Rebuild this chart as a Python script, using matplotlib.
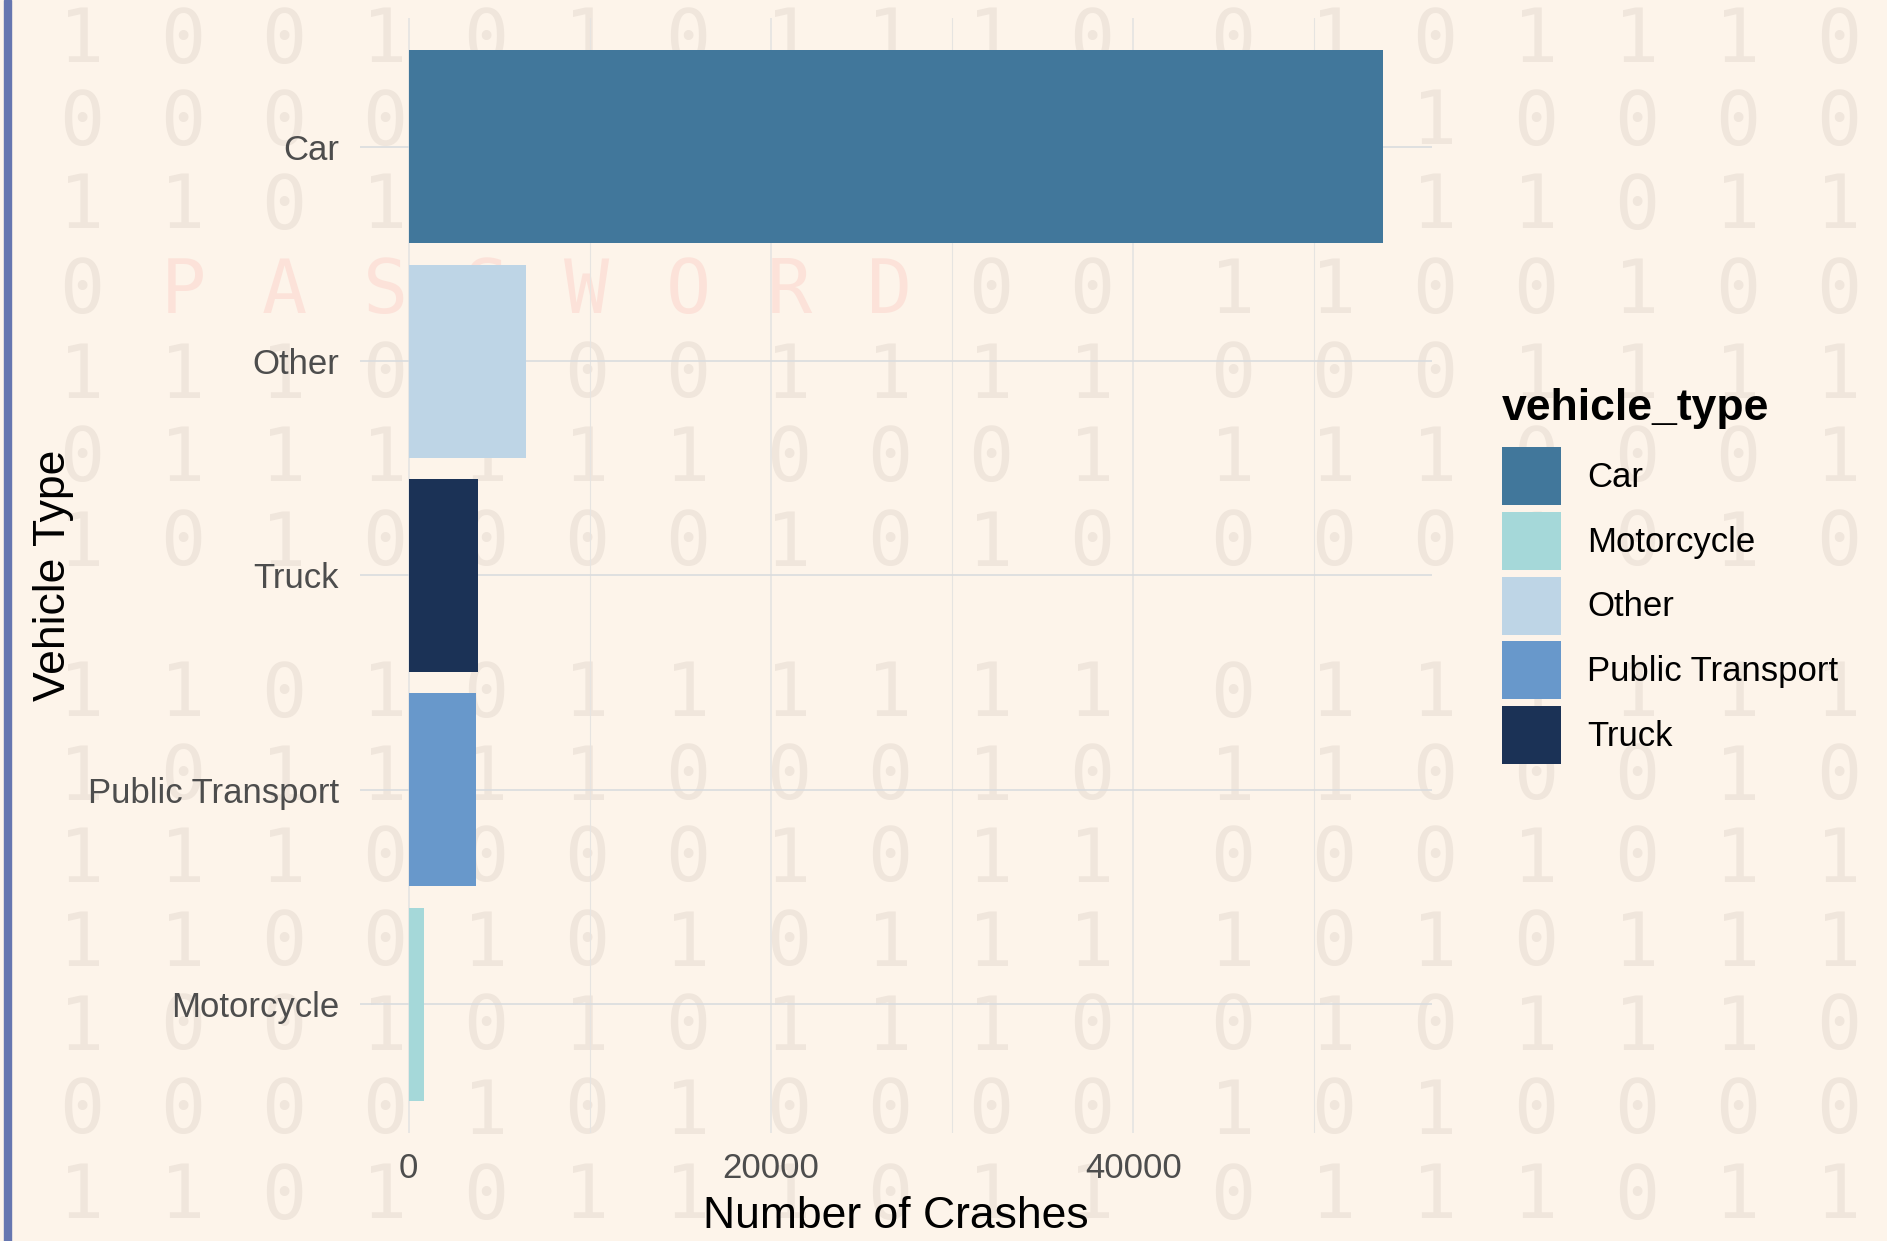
import matplotlib
matplotlib.use("Agg")
import matplotlib.pyplot as plt
from matplotlib.patches import Patch, Rectangle
from matplotlib.ticker import MultipleLocator

# ---------------- data ----------------
categories = ["Car", "Other", "Truck", "Public Transport", "Motorcycle"]  # top -> bottom
crashes = [53800, 6500, 3850, 3700, 860]
legend_order = ["Car", "Motorcycle", "Other", "Public Transport", "Truck"]
bar_colors = {
    "Car": "#41779B",
    "Motorcycle": "#A5D8D9",
    "Other": "#BED5E6",
    "Public Transport": "#6898CB",
    "Truck": "#1B3256",
}
x_ticks = [0, 20000, 40000]
x_tick_labels = ["0", "20000", "40000"]

# decorative binary background (left tile of 11 columns, right tile of 7)
bg_left = [
    "10010101110", "00001010000", "11010111011", "0PASSWORD00",
    "11100001111", "01111110001", "10100001010", "11010111111",
    "10111100010", "11100001011", "11001010111", "10010101110",
    "00001010000", "11010111011",
]
bg_right = [
    "0101110", "1010000", "0111011", "1100100",
    "0001111", "1110001", "0001010", "0111111",
    "1100010", "0001011", "1010111", "0101110",
    "1010000", "0111011",
]

# ---------------- layout ----------------
W, H = 1887, 1241
BG = "#FDF4EA"
DIGIT = "#F0E6DC"
PINK = "#FCE2D9"
row_y = [42, 124, 208, 292, 377, 461, 545, 696, 779, 861, 945, 1029, 1113, 1198]

plt.rcParams["font.family"] = ["Liberation Sans", "DejaVu Sans"]

fig = plt.figure(figsize=(W / 100, H / 100), dpi=100, facecolor=BG)

for r, y in enumerate(row_y):
    for k, ch in enumerate(bg_left[r]):
        fig.text((82 + 101 * k) / W, 1 - y / H, ch, family="DejaVu Sans Mono",
                 fontsize=54, color=PINK if ch.isalpha() else DIGIT,
                 ha="center", va="center", zorder=-5)
    for k, ch in enumerate(bg_right[r]):
        fig.text((1233 + 101 * k) / W, 1 - y / H, ch, family="DejaVu Sans Mono",
                 fontsize=54, color=DIGIT, ha="center", va="center", zorder=-5)

ax_l, ax_r, ax_t, ax_b = 360, 1432, 18, 1133
ax = fig.add_axes([ax_l / W, 1 - ax_b / H, (ax_r - ax_l) / W, (ax_b - ax_t) / H])
ax.patch.set_alpha(0)

n = len(categories)
pos = list(range(n, 0, -1))
ax.barh(pos, crashes, height=0.9, color=[bar_colors[c] for c in categories],
        zorder=3)

xmax = max(crashes)
ax.set_xlim(-0.05 * xmax, 1.05 * xmax)
ax.set_ylim(0.4, n + 0.6)
ax.set_yticks(pos)
ax.set_yticklabels(categories)
ax.set_xticks(x_ticks)
ax.set_xticklabels(x_tick_labels)
ax.xaxis.set_minor_locator(MultipleLocator(10000))

ax.grid(which="major", axis="y", color="#DADCDE", linewidth=1.2, zorder=0)
ax.grid(which="major", axis="x", color="#E2E2E1", linewidth=1.1, zorder=0)
ax.grid(which="minor", axis="x", color="#E6E4E1", linewidth=0.8, zorder=0)
ax.set_axisbelow(True)
for s in ax.spines.values():
    s.set_visible(False)
ax.tick_params(which="both", length=0)
ax.tick_params(axis="y", labelsize=25, labelcolor="#4D4D4D", pad=15)
ax.tick_params(axis="x", labelsize=25, labelcolor="#4D4D4D", pad=14)

ax.set_xlabel("Number of Crashes", fontsize=32, color="black")
ax.xaxis.set_label_coords(0.5, -(1217 - ax_b) / (ax_b - ax_t))
ax.xaxis.label.set_verticalalignment("center")
ax.set_ylabel("Vehicle Type", fontsize=32, color="black")
ax.yaxis.set_label_coords(-(ax_l - 54) / (ax_r - ax_l), (ax_b - 575) / (ax_b - ax_t))
ax.yaxis.label.set_verticalalignment("center")

handles = [Patch(facecolor=bar_colors[c], edgecolor="none", label=c) for c in legend_order]
leg = fig.legend(handles=handles, title="vehicle_type", loc="upper left",
                 bbox_to_anchor=(1502 / W, 1 - 388 / H), frameon=False,
                 fontsize=25, title_fontproperties={"weight": "bold", "size": 32},
                 handlelength=1.7, handleheight=2.2, handletextpad=0.75,
                 labelspacing=0.19, borderpad=0, borderaxespad=0, alignment="left")
leg._legend_box.sep = 13

fig.add_artist(Rectangle((4 / W, 0), 7 / W, 1, transform=fig.transFigure,
                         color="#6676B0", zorder=10))

fig.savefig("out.png", dpi=100, facecolor=BG)
